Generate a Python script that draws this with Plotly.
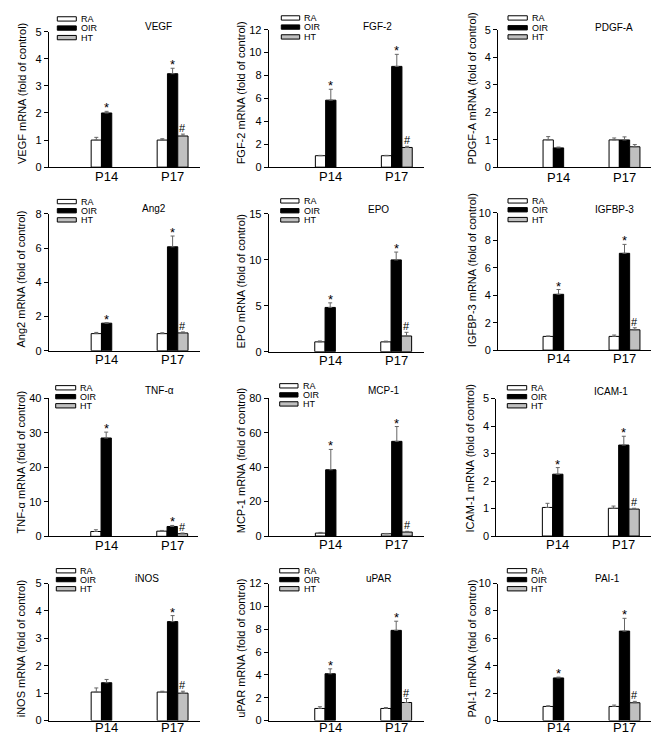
import plotly.graph_objects as go

W, H = 659, 734

TIMEPOINTS = ["P14", "P17"]
GENES = ["VEGF", "FGF-2", "PDGF-A", "Ang2", "EPO", "IGFBP-3",
         "TNF-α", "MCP-1", "ICAM-1", "iNOS", "uPAR", "PAI-1"]
SERIES = ["RA", "OIR", "HT"]
Y_MAX = [5, 12, 5, 8, 15, 10, 40, 80, 5, 5, 12, 10]
Y_DTICK = [1, 2, 1, 2, 5, 2, 10, 20, 1, 1, 2, 2]

RA_MEAN = [[1.0, 1.0], [1.0, 1.0], [1.0, 1.0], [1.0, 1.0], [1.07, 1.07], [1.0, 1.0],
           [1.4, 1.5], [1.7, 1.3], [1.04, 1.01], [1.04, 1.04], [1.06, 1.06], [1.03, 1.03]]
RA_ERR = [[0.1, 0.05], [0.03, 0.03], [0.12, 0.07], [0.07, 0.05], [0.1, 0.08], [0.03, 0.1],
          [0.5, 0.2], [0.4, 0.2], [0.15, 0.08], [0.15, 0.03], [0.15, 0.08], [0.05, 0.1]]
OIR_MEAN = [[2.0, 3.45], [5.85, 8.8], [0.71, 1.0], [1.61, 6.08], [4.82, 10.0], [4.07, 7.06],
            [28.5, 2.85], [38.5, 55.0], [2.25, 3.31], [1.38, 3.61], [4.1, 7.9], [3.11, 6.53]]
OIR_ERR = [[0.06, 0.2], [0.95, 1.05], [0.03, 0.11], [0.03, 0.63], [0.5, 0.85], [0.35, 0.65],
           [1.7, 0.3], [11.8, 8.6], [0.24, 0.32], [0.12, 0.22], [0.43, 0.8], [0.06, 0.93]]
HT_MEAN = [[None, 1.15], [None, 1.72], [None, 0.75], [None, 1.04], [None, 1.71], [None, 1.48],
           [None, 0.76], [None, 2.3], [None, 0.98], [None, 1.0], [None, 1.58], [None, 1.3]]
HT_ERR = [[None, 0.07], [None, 0.1], [None, 0.08], [None, 0.06], [None, 0.4], [None, 0.15],
          [None, 0.2], [None, 0.4], [None, 0.03], [None, 0.07], [None, 0.35], [None, 0.1]]
OIR_SIG = [["*", "*"], ["*", "*"], [None, None], ["*", "*"], ["*", "*"], ["*", "*"],
           ["*", "*"], ["*", "*"], ["*", "*"], [None, "*"], ["*", "*"], ["*", "*"]]
HT_SIG = [[None, "#"], [None, "#"], [None, None], [None, "#"], [None, "#"], [None, "#"],
          [None, "#"], [None, "#"], [None, "#"], [None, "#"], [None, "#"], [None, "#"]]

# ---- layout geometry (pixels) ----
# (axis left, axis right, axis top, axis bottom, P14 group centre)
PANEL_BOX = [
    (40.7, 192, 18, 155.7, 98.6), (260.7, 416, 16, 155.7, 322.8), (490, 644, 16, 156, 550.5),
    (40.7, 192, 203.3, 342.3, 98.6), (260.7, 416, 203.3, 343.3, 322.2), (490, 644, 202.3, 341.7, 550.5),
    (40.7, 190, 390.7, 531, 98.2), (260.7, 416, 390.7, 530.7, 322.8), (488.3, 643, 391, 530.7, 549.8),
    (40.7, 192, 579, 718.3, 98.6), (260.7, 416, 579, 718.3, 322.2), (490, 644, 579, 718.3, 550.5),
]
XLABEL_GAP = [10, 10, 10, 9, 9, 9, 9, 9, 9, 7.3, 7.3, 7.3]
GROUP_SPACING = 66.0
BAR_W = 0.156
TITLE_POS = [(150, 13), (369, 12.7), (606, 13.3), (146, 197.7), (370.5, 198.3), (606.7, 198.3),
             (151.7, 382.7), (375.8, 382.7), (603.3, 383.5), (139, 574), (370, 574), (599.2, 574)]
YTITLE_X = [13.3, 232.7, 464, 13.3, 233.3, 464, 12.7, 232.7, 462, 12.7, 232.7, 464]
# (rect x0, rect x1, text x, row y's)
LEGEND_POS = [
    (49.3, 68.3, 71, (5, 14.3, 24)), (273.3, 291.7, 294, (4, 13.3, 23.3)), (500, 519.3, 522, (4, 14, 23.3)),
    (49.3, 68.3, 71, (190.7, 200, 209.3)), (272.7, 291, 294, (190, 200, 209.3)), (500, 519.3, 522, (190, 199, 209)),
    (47.7, 67.7, 70, (380, 389, 398.3)), (271.7, 290, 293, (378, 387.2, 396.4)), (499.3, 518.7, 521, (380, 389, 398.3)),
    (48.3, 67.7, 70, (566, 575, 584.3)), (271.7, 291, 293.5, (566, 575, 584.3)), (499.3, 518.7, 521, (566, 575, 584.3)),
]
FILLS = ["#ffffff", "#000000", "#c0c0c0"]
FONT = "Liberation Sans, Arial, sans-serif"


def px(xp):
    return xp / W


def py(yp):
    return 1 - yp / H


fig = go.Figure()
annotations = []
shapes = []

for i, gene in enumerate(GENES):
    n = "" if i == 0 else str(i + 1)
    xref, yref = "x" + n, "y" + n
    left, right, top, bot, c14 = PANEL_BOX[i]
    means = [RA_MEAN[i], OIR_MEAN[i], HT_MEAN[i]]
    errs = [RA_ERR[i], OIR_ERR[i], HT_ERR[i]]
    for k, s in enumerate(SERIES):
        xs = [g + 1 + (k - 1) * BAR_W for g in range(len(TIMEPOINTS))]
        fig.add_trace(go.Bar(
            x=xs, y=means[k], width=BAR_W, xaxis=xref, yaxis=yref,
            marker=dict(color=FILLS[k], line=dict(color="black", width=1)),
            error_y=dict(type="data", symmetric=False,
                         array=[e if e is not None else 0 for e in errs[k]],
                         arrayminus=[0, 0], color="#666666", thickness=1, width=2),
            showlegend=False, name=s,
        ))
    # significance markers
    for g in range(len(TIMEPOINTS)):
        for k, sig in ((1, OIR_SIG[i][g]), (2, HT_SIG[i][g])):
            if sig is None:
                continue
            yv = means[k][g] + errs[k][g]
            annotations.append(dict(
                x=g + 1 + (k - 1) * BAR_W, y=yv, xref=xref, yref=yref, text=sig,
                showarrow=False, yanchor="bottom", xanchor="center",
                yshift=-6 if sig == "*" else -2,
                font=dict(size=13 if sig == "*" else 11, color="black", family=FONT)))

    # category labels under the groups (placed on the x axis scale)
    for g, lab in enumerate(TIMEPOINTS):
        annotations.append(dict(
            x=g + 1, y=py(bot + XLABEL_GAP[i]), xref=xref, yref="paper", text=lab,
            showarrow=False, xanchor="center", yanchor="middle",
            font=dict(size=13, color="black", family=FONT)))

    xr0 = 1 - (c14 - left) / GROUP_SPACING
    xr1 = 1 + (right - c14) / GROUP_SPACING
    fig.layout["xaxis" + n] = dict(
        domain=[px(left), px(right)], range=[xr0, xr1], anchor=yref,
        showline=True, linecolor="black", linewidth=1, ticks="",
        showticklabels=False, showgrid=False, zeroline=False, fixedrange=True)
    fig.layout["yaxis" + n] = dict(
        domain=[py(bot), py(top)], range=[0, Y_MAX[i]], anchor=xref,
        showline=True, linecolor="black", linewidth=1, ticks="outside",
        ticklen=4, tickwidth=1, tickcolor="black", dtick=Y_DTICK[i], tick0=0,
        showgrid=False, zeroline=False,
        tickfont=dict(size=11, color="black", family=FONT), fixedrange=True)

    # panel title
    tx, ty = TITLE_POS[i]
    annotations.append(dict(x=px(tx), y=py(ty), xref="paper", yref="paper", text=gene,
                            showarrow=False, xanchor="center", yanchor="middle",
                            font=dict(size=10, color="black", family=FONT)))
    # y title
    annotations.append(dict(x=px(YTITLE_X[i]), y=py(bot - 1), xref="paper", yref="paper",
                            text=gene + " mRNA (fold of control)", textangle=-90,
                            showarrow=False, xanchor="center", yanchor="bottom",
                            font=dict(size=11, color="black", family=FONT)))
    # legend
    rx0, rx1, txl, rows = LEGEND_POS[i]
    for k, s in enumerate(SERIES):
        yc = rows[k]
        shapes.append(dict(type="rect", xref="paper", yref="paper",
                           x0=px(rx0), x1=px(rx1), y0=py(yc + 2.2), y1=py(yc - 2.2),
                           fillcolor=FILLS[k], line=dict(color="black", width=1)))
        annotations.append(dict(x=px(txl), y=py(yc), xref="paper", yref="paper", text=s,
                                showarrow=False, xanchor="left", yanchor="middle",
                                font=dict(size=9, color="black", family=FONT)))

fig.update_layout(
    width=W, height=H, margin=dict(l=0, r=0, t=0, b=0),
    paper_bgcolor="white", plot_bgcolor="white", barmode="overlay",
    annotations=annotations, shapes=shapes, showlegend=False,
)

fig.write_html("out.html")
